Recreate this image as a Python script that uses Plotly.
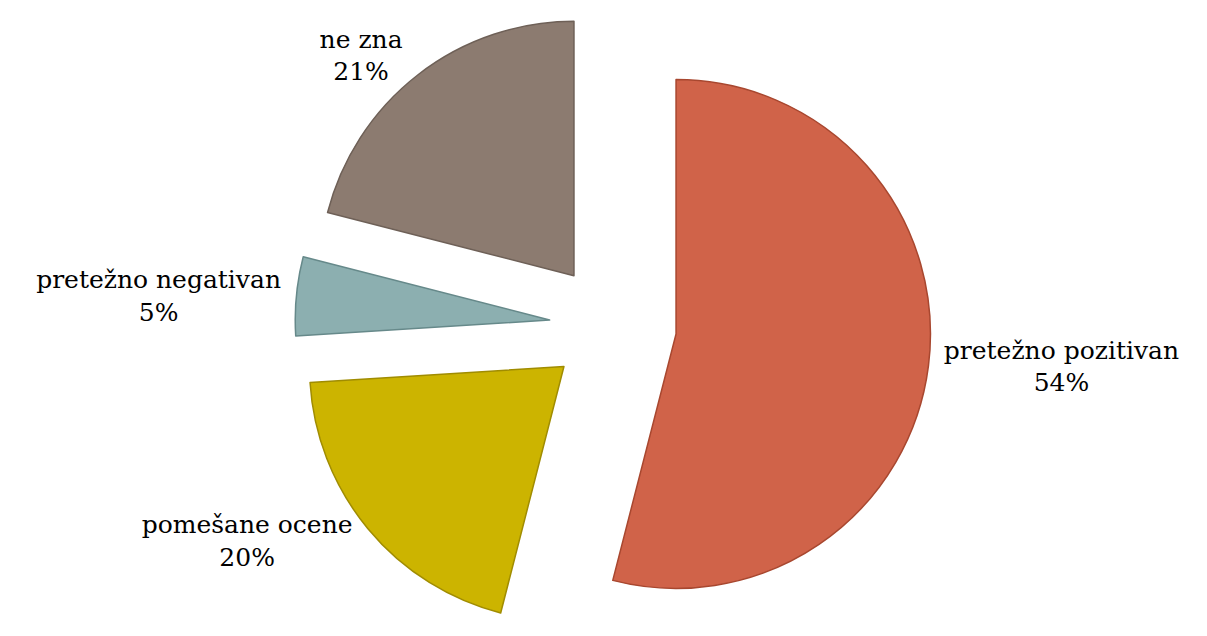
import plotly.graph_objects as go

labels = ["pretežno pozitivan", "pomešane ocene", "pretežno negativan", "ne zna"]
values = [54, 20, 5, 21]
fill_colors = ["#D06349", "#CCB400", "#8CAFB0", "#8C7B70"]
line_colors = ["#A8472F", "#A08C00", "#66898A", "#6E6057"]

fig = go.Figure(
    go.Pie(
        labels=labels,
        values=values,
        sort=False,
        direction="clockwise",
        rotation=0,
        pull=[0.25] * len(values),
        marker=dict(colors=fill_colors, line=dict(color=line_colors, width=1.5)),
        textposition="outside",
        texttemplate="%{label}<br>%{percent:.0%}",
        textfont=dict(family="DejaVu Serif", size=25, color="#000000"),
        domain=dict(x=[0.0024, 1.0], y=[0.0, 1.0]),
        automargin=False,
        showlegend=False,
    )
)

fig.update_layout(
    width=1207,
    height=636,
    autosize=False,
    margin=dict(l=0, r=0, t=0, b=0, pad=0, autoexpand=False),
    paper_bgcolor="white",
    plot_bgcolor="white",
    font=dict(family="DejaVu Serif"),
)

fig.write_html("out.html")
